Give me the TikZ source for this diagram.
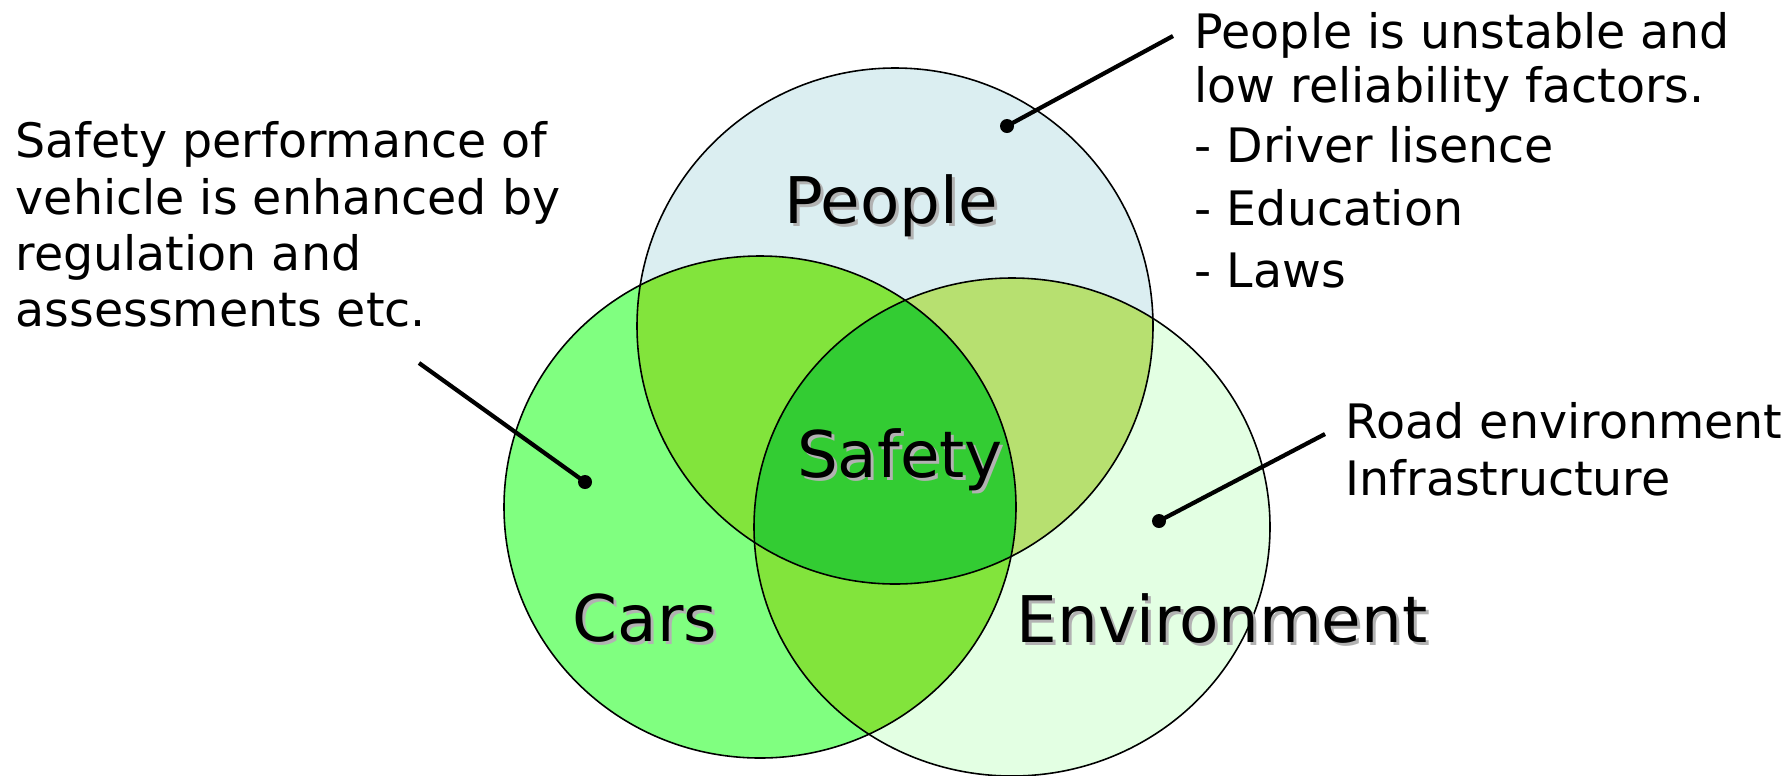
\documentclass[tikz,border=0pt]{standalone}
\usepackage{fontspec}
\setmainfont{DejaVu Sans}
\usepackage{tikz}

\definecolor{peoplefill}{RGB}{219,238,241}
\definecolor{carsfill}{RGB}{128,255,128}
\definecolor{envfill}{RGB}{227,255,227}
\definecolor{lensgreen}{RGB}{130,228,60}
\definecolor{lensolive}{RGB}{183,224,112}
\definecolor{safefill}{RGB}{51,204,51}

\begin{document}
\begin{tikzpicture}[x=0.01cm, y=-0.01cm,
  ring/.style = {draw=black, line width=0.45pt},
  pr/.style = {x radius=258, y radius=258},
  cr/.style = {x radius=256, y radius=251},
  er/.style = {x radius=258, y radius=249},
  big/.style = {font=\fontsize{18.3}{22}\selectfont, inner sep=0pt},
  shade/.style = {big, text=black!30},
  note/.style = {font=\fontsize{13.5}{16}\selectfont, align=left, anchor=north west, inner sep=0pt},
  dot/.style = {circle, fill=black, inner sep=0pt, minimum size=1.4mm},
  lead/.style = {draw=black, line width=1.2pt}]
\useasboundingbox (0,0) rectangle (1791,775);

% centres of the three sets
\coordinate (pc) at (895,326);
\coordinate (cc) at (760,507);
\coordinate (ec) at (1012,527);

% plain fills
\fill[peoplefill] (pc) ellipse [pr];
\fill[envfill] (ec) ellipse [er];
\fill[carsfill] (cc) ellipse [cr];

% pairwise overlaps
\begin{scope}
  \clip (cc) ellipse [cr];
  \fill[lensgreen] (pc) ellipse [pr];
  \fill[lensgreen] (ec) ellipse [er];
\end{scope}
\begin{scope}
  \clip (pc) ellipse [pr];
  \fill[lensolive] (ec) ellipse [er];
\end{scope}

% common part
\begin{scope}
  \clip (cc) ellipse [cr];
  \clip (ec) ellipse [er];
  \fill[safefill] (pc) ellipse [pr];
\end{scope}

\draw[ring] (pc) ellipse [pr];
\draw[ring] (cc) ellipse [cr];
\draw[ring] (ec) ellipse [er];

% set names with their shadows
\node[shade] (people-sh) at (894,209) {People};
\node[big] (people) at (891,206) {People};
\node[shade] (safety-sh) at (903,463) {Safety};
\node[big] (safety) at (900,460) {Safety};
\node[shade] (cars-sh) at (648,621) {Cars};
\node[big] (cars) at (645,618) {Cars};
\node[shade] (env-sh) at (1225,621) {Environment};
\node[big] (env) at (1222,618) {Environment};

% notes
\node[note] (pnote) at (1194,12) {People is unstable and\\[-0.7pt]
  low reliability factors.\\[0.9pt]
  - Driver lisence\\[2pt]
  - Education\\[1.8pt]
  - Laws};
\node[note] (cnote) at (15,121) {Safety performance of\\
  vehicle is enhanced by\\
  regulation and\\
  assessments etc.};
\node[note] (enote) at (1345,402) {Road environment\\
  Infrastructure};

% leaders
\node[dot] (pdot) at (1007,126) {};
\node[dot] (cdot) at (585,482) {};
\node[dot] (edot) at (1159,521) {};
\coordinate (pend) at (1173,36);
\coordinate (cend) at (419,363);
\coordinate (eend) at (1325,434);
\draw[lead] (pdot.center) -- (pend);
\draw[lead] (cdot.center) -- (cend);
\draw[lead] (edot.center) -- (eend);
\end{tikzpicture}
\end{document}
